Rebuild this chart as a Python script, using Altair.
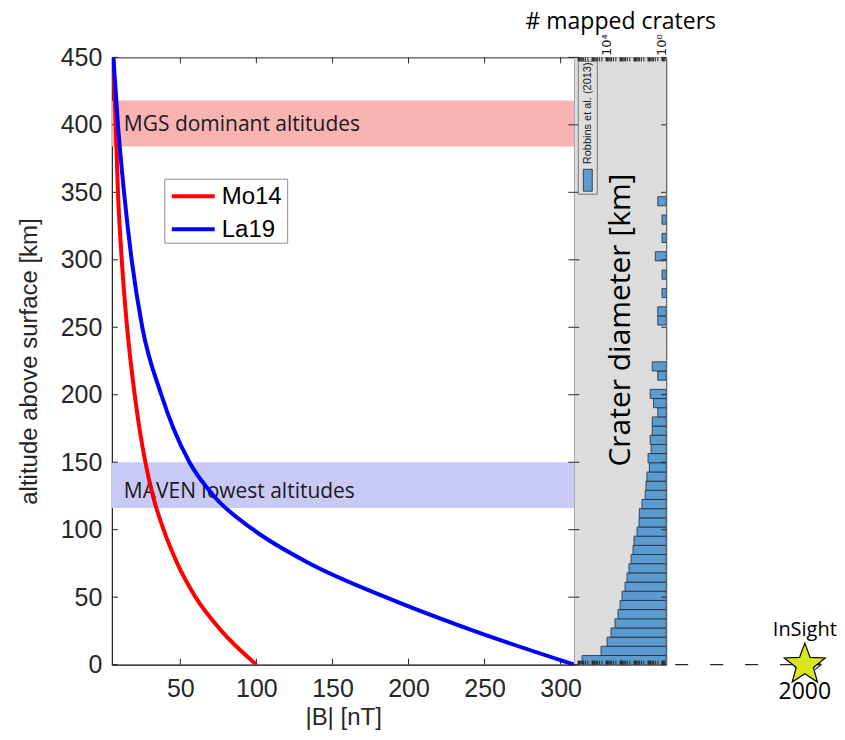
import altair as alt
import pandas as pd

# ---------------- data ----------------
mo14_B = [100, 77, 60, 48, 39, 32, 27, 20, 15, 11.5, 9, 7.5, 5.8]
mo14_alt = [0, 25, 50, 75, 100, 125, 150, 200, 250, 300, 350, 400, 450]
la19_B = [309, 243, 185, 135, 98, 72, 56, 45.5, 37.5, 25, 18, 13, 9, 6]
la19_alt = [0, 25, 50, 75, 100, 125, 150, 175, 200, 250, 300, 350, 400, 450]
models = ["Mo14", "La19"]
model_colors = ["#FF0000", "#0000FF"]

band_names = ["MGS dominant altitudes", "MAVEN lowest altitudes"]
band_lo = [384, 116]
band_hi = [418, 150]
band_label_alt = [400, 128]
band_colors = ["#F9B3B3", "#C9C9F6"]

x_ticks = [50, 100, 150, 200, 250, 300]
y_ticks = [0, 50, 100, 150, 200, 250, 300, 350, 400, 450]

BIN_KM = 6.8
crater_bin = [0, 1, 2, 3, 4, 5, 6, 7, 8, 9, 10, 11, 12, 13, 14, 15, 16, 17, 18, 19,
              20, 21, 22, 23, 24, 25, 26, 27, 28, 29, 31, 32, 37, 38, 40, 42, 44, 46, 48, 50]
crater_count = [520000, 23000, 8500, 4400, 2300, 1400, 1000, 720, 440, 316, 230, 163, 118,
                100, 61, 44, 42, 27, 16, 14, 12, 8, 10, 6, 7, 5, 5, 2, 4, 7, 2, 5, 2, 2,
                1, 1, 3, 1, 1, 2]
count_tick_values = [1, 10000]
count_tick_labels = ["10\u2070", "10\u2074"]

insight_B = 2000

# ---------------- layout ----------------
W, H = 463, 608
PW = 92
IW = 170
INK = "#262626"
BAR_BASE = 0.5
BAR_MAX = 0.5 * 10 ** (PW / 14.0)

xs = alt.Scale(domain=[5, 309], nice=False, zero=False)
ys = alt.Scale(domain=[0, 450], nice=False, zero=False)

curves = pd.DataFrame({
    "B": mo14_B + la19_B,
    "alt": mo14_alt + la19_alt,
    "model": [models[0]] * len(mo14_B) + [models[1]] * len(la19_B),
})
bands = pd.DataFrame({"name": band_names, "alt": band_lo, "alt2": band_hi, "lab": band_label_alt})
xt = pd.DataFrame({"B": x_ticks})
yt = pd.DataFrame({"alt": y_ticks})

band_layers = []
for i, nm in enumerate(band_names):
    band_layers.append(
        alt.Chart(bands).transform_filter(alt.datum.name == nm).mark_rect(fill=band_colors[i]).encode(
            x=alt.value(0), x2=alt.value(W),
            y=alt.Y("alt:Q", scale=ys), y2="alt2:Q"))
band_text = alt.Chart(bands).mark_text(align="left", baseline="middle", fontSize=21,
                                       font="Open Sans", color="#1a1a1a").encode(
    x=alt.value(12), y=alt.Y("lab:Q", scale=ys), text="name:N")

lines = alt.Chart(curves).mark_line(strokeWidth=4, interpolate="monotone", clip=True).encode(
    x=alt.X("B:Q", scale=xs, axis=alt.Axis(
        values=x_ticks, title="|B| [nT]", titleFontSize=24, titleFont="Liberation Sans",
        titleFontWeight="normal", titleColor=INK, labelFontSize=25, labelFont="Liberation Sans",
        labelColor=INK, ticks=False, labelPadding=12, domainColor=INK, grid=False, titlePadding=4)),
    y=alt.Y("alt:Q", scale=ys, axis=alt.Axis(
        values=y_ticks, title="altitude above surface [km]", titleFontSize=24,
        titleFont="Liberation Sans", titleFontWeight="normal", titleColor=INK,
        labelFontSize=25, labelFont="Liberation Sans", labelColor=INK, ticks=False,
        labelPadding=10, domainColor=INK, grid=False, titlePadding=19)),
    color=alt.Color("model:N", scale=alt.Scale(domain=models, range=model_colors), legend=None),
)

xtick_b = alt.Chart(xt).mark_rule(color=INK).encode(
    x=alt.X("B:Q", scale=xs), y=alt.value(H), y2=alt.value(H - 6))
xtick_t = alt.Chart(xt).mark_rule(color=INK).encode(
    x=alt.X("B:Q", scale=xs), y=alt.value(0), y2=alt.value(6))
ytick_l = alt.Chart(yt).mark_rule(color=INK).encode(
    y=alt.Y("alt:Q", scale=ys), x=alt.value(0), x2=alt.value(6))
ytick_r = alt.Chart(yt).mark_rule(color=INK).encode(
    y=alt.Y("alt:Q", scale=ys), x=alt.value(W - 6), x2=alt.value(W))

# manual legend (box, line samples, labels)
leg_df = pd.DataFrame({"m": models})
legend_layers = [
    alt.Chart(leg_df).transform_filter(alt.datum.m == models[0]).mark_rect(
        fill="white", stroke="#8c8c8c", strokeWidth=1).encode(
        x=alt.value(53), x2=alt.value(176), y=alt.value(122), y2=alt.value(186))
]
for i, nm in enumerate(models):
    ry = 139 + 33 * i
    legend_layers.append(
        alt.Chart(leg_df).transform_filter(alt.datum.m == nm).mark_rule(
            color=model_colors[i], strokeWidth=4).encode(
            x=alt.value(60), x2=alt.value(103), y=alt.value(ry)))
    legend_layers.append(
        alt.Chart(leg_df).transform_filter(alt.datum.m == nm).mark_text(
            align="left", baseline="middle", fontSize=24, font="Liberation Sans", color="#000").encode(
            x=alt.value(110), y=alt.value(ry + 1), text="m:N"))

main = alt.layer(*band_layers, band_text, xtick_b, xtick_t, ytick_l, ytick_r, lines,
                 *legend_layers).properties(width=W, height=H)

# ---------------- crater panel ----------------
craters = pd.DataFrame({
    "d": [b * BIN_KM for b in crater_bin],
    "d2": [(b + 1) * BIN_KM for b in crater_bin],
    "n": crater_count,
    "base": [BAR_BASE] * len(crater_bin),
})
cs = alt.Scale(type="log", domain=[BAR_BASE, BAR_MAX], reverse=True, nice=False)

minor_v = []
for k in range(-1, 7):
    for m in range(1, 10):
        v = m * 10 ** k
        if BAR_BASE < v < BAR_MAX:
            minor_v.append(float(v))
minor_df = pd.DataFrame({"n": minor_v})
pyt = pd.DataFrame({"d": y_ticks})

label_expr = ("datum.value == %d ? '%s' : '%s'"
              % (count_tick_values[0], count_tick_labels[0], count_tick_labels[1]))

bg = alt.Chart(pd.DataFrame({"a": [0]})).mark_rect(fill="#DCDCDC").encode(
    x=alt.value(0), x2=alt.value(PW), y=alt.value(0), y2=alt.value(H))

bars = alt.Chart(craters).mark_rect(fill="#5B9BD0", stroke="#1d2d3d", strokeWidth=0.8, clip=True).encode(
    x=alt.X("n:Q", scale=cs, axis=alt.Axis(
        orient="top", values=count_tick_values, labelExpr=label_expr,
        labelAngle=270, labelAlign="left", labelBaseline="middle", labelFontSize=13,
        labelFont="DejaVu Sans", labelColor=INK, labelPadding=2, ticks=False, domain=False, grid=False,
        title="# mapped craters", titleFontSize=23, titleFont="Open Sans", titleFontWeight="normal",
        titleColor="#000", titlePadding=0)),
    x2="base:Q",
    y=alt.Y("d:Q", scale=ys, axis=alt.Axis(labels=False, ticks=False, domain=False, grid=False, title="")),
    y2="d2:Q",
)

ptick_t = alt.Chart(minor_df).mark_rule(color=INK).encode(
    x=alt.X("n:Q", scale=cs), y=alt.value(0), y2=alt.value(4))
ptick_b = alt.Chart(minor_df).mark_rule(color=INK).encode(
    x=alt.X("n:Q", scale=cs), y=alt.value(H), y2=alt.value(H - 4))
pytick_l = alt.Chart(pyt).mark_rule(color=INK).encode(
    y=alt.Y("d:Q", scale=ys), x=alt.value(0), x2=alt.value(5))
pytick_r = alt.Chart(pyt).mark_rule(color=INK).encode(
    y=alt.Y("d:Q", scale=ys), x=alt.value(PW - 5), x2=alt.value(PW))

one = pd.DataFrame({"t": ["Crater diameter [km]"], "r": ["Robbins et al. (2013)"]})
ptitle = alt.Chart(one).mark_text(angle=270, fontSize=30, font="Open Sans", color="#000").encode(
    x=alt.value(47), y=alt.value(263), text="t:N")
leg_box = alt.Chart(one).mark_rect(fill="#DEDEDE", stroke="#777", strokeWidth=1).encode(
    x=alt.value(4), x2=alt.value(23), y=alt.value(4), y2=alt.value(137))
leg_txt = alt.Chart(one).mark_text(angle=270, fontSize=11, font="Liberation Sans", color="#222").encode(
    x=alt.value(14), y=alt.value(56), text="r:N")
leg_patch = alt.Chart(one).mark_rect(fill="#5B9BD0", stroke="#1d2d3d", strokeWidth=0.8).encode(
    x=alt.value(9), x2=alt.value(18), y=alt.value(112), y2=alt.value(134))

panel = alt.layer(bg, bars, ptick_t, ptick_b, pytick_l, pytick_r, ptitle, leg_box, leg_txt, leg_patch).properties(
    width=PW, height=H)

# ---------------- InSight ----------------
STAR_PATH = ("M0,-1L0.247,-0.34L0.951,-0.309L0.4,0.13L0.588,0.809L0,0.42L-0.588,0.809"
             "L-0.4,0.13L-0.951,-0.309L-0.247,-0.34Z")
ixs = alt.Scale(domain=[1600, 2090], nice=False, zero=False)
ins = pd.DataFrame({"B": [insight_B], "alt": [0], "x0": [1600], "x1": [2047], "lab": ["InSight"],
                    "val": [str(insight_B)]})
dash = alt.Chart(ins).mark_rule(strokeDash=[13, 22], strokeDashOffset=26, color=INK, strokeWidth=1.3).encode(
    x=alt.X("x0:Q", scale=ixs, axis=None), x2="x1:Q", y=alt.Y("alt:Q", scale=ys, axis=None))
arrow = alt.Chart(ins).mark_point(shape="M-1,-0.8L0,0L-1,0.8", filled=False, color=INK, size=144,
                                  strokeWidth=1.2, opacity=1).encode(
    x=alt.X("x1:Q", scale=ixs, axis=None), y=alt.Y("alt:Q", scale=ys, axis=None))
star = alt.Chart(ins).mark_point(shape=STAR_PATH, filled=True, fill="#D8E81C", stroke="#000",
                                 strokeWidth=1.2, size=1850, opacity=1).encode(
    x=alt.X("B:Q", scale=ixs, axis=None), y=alt.Y("alt:Q", scale=ys, axis=None))
ins_lab = alt.Chart(ins).mark_text(fontSize=20, font="Open Sans", dy=-35, color="#000").encode(
    x=alt.X("B:Q", scale=ixs, axis=None), y=alt.Y("alt:Q", scale=ys, axis=None), text="lab:N")
ins_val = alt.Chart(ins).mark_text(fontSize=23, font="Open Sans", dy=27, color="#000").encode(
    x=alt.X("B:Q", scale=ixs, axis=None), y=alt.Y("alt:Q", scale=ys, axis=None), text="val:N")

insight = alt.layer(dash, arrow, star, ins_lab, ins_val).properties(
    width=IW, height=H, view=alt.ViewBackground(strokeOpacity=0))

chart = alt.hconcat(main, panel, insight, spacing=0, bounds="flush").properties(
    padding={"left": 8, "top": 1, "right": 0, "bottom": 0}
).configure_view(stroke=INK, strokeWidth=1)

chart.save("out.html", embed_options={"renderer": "svg", "actions": False})
